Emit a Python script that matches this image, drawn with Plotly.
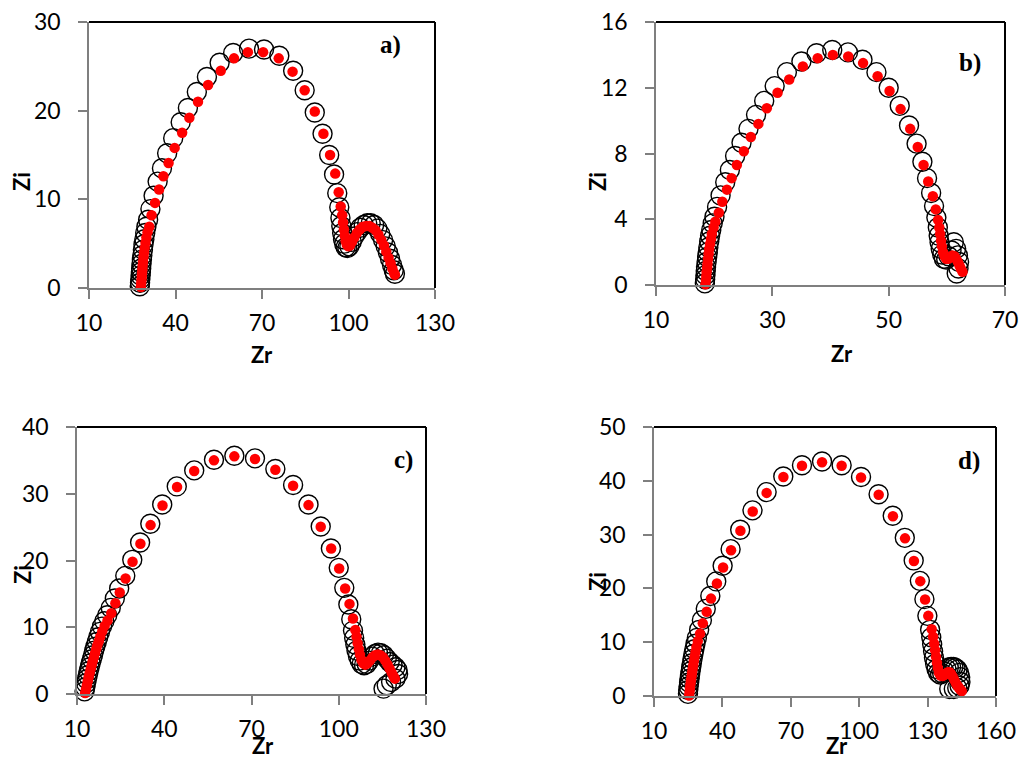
import plotly.graph_objects as go

# Nyquist plots (Zi vs Zr): measured spectra (open circles) and fitted model (red dots)

# ---- sample a ----
zr_a_exp = [27.6, 27.7, 27.8, 27.9, 28.0, 28.1, 28.2, 28.35, 28.5, 28.7, 28.9, 29.2, 29.5, 29.9, 30.5,
            31.3, 32.4, 33.8, 35.3, 37.1, 39.2, 41.8, 44.3, 47.4, 50.9, 55.3, 60.0, 65.5, 70.7, 76.0,
            80.8, 84.8, 88.3, 91.0, 93.3, 95.0, 96.1, 96.8, 97.2, 97.5, 97.8, 98.1, 98.5, 99.0, 99.6,
            100.3, 101.1, 102.0, 103.0, 104.1, 105.3, 106.5, 107.7, 108.9, 110.0, 111.0, 112.0, 112.9,
            113.7, 114.4, 115.1, 115.7, 116.1]
zi_a_exp = [0.2, 0.6, 1.0, 1.4, 1.8, 2.2, 2.7, 3.2, 3.7, 4.3, 4.9, 5.5, 6.2, 6.9, 7.7,
            8.9, 10.4, 12.0, 13.5, 15.2, 16.9, 18.7, 20.3, 22.1, 23.8, 25.4, 26.5, 27.0, 26.9, 26.2,
            24.5, 22.3, 19.8, 17.4, 15.0, 12.8, 10.7, 9.1, 7.9, 7.0, 6.2, 5.5, 5.0, 4.6, 4.5,
            4.7, 5.2, 5.8, 6.3, 6.8, 7.1, 7.3, 7.3, 7.1, 6.7, 6.1, 5.4, 4.7,
            4.0, 3.3, 2.6, 2.0, 1.6]
zr_a_fit = [28.0, 28.1, 28.2, 28.3, 28.4, 28.5, 28.6, 28.75, 28.9, 29.1, 29.3, 29.6, 29.9, 30.3, 30.9,
            31.7, 32.9, 34.3, 35.8, 37.6, 39.7, 42.3, 44.8, 47.8, 51.3, 55.7, 60.3, 65.1, 70.4, 75.8,
            80.6, 84.8, 88.3, 91.3, 93.6, 95.4, 96.6, 97.3, 97.8, 98.1, 98.4, 98.7, 99.0, 99.4, 99.9,
            100.5, 101.2, 102.0, 102.9, 103.9, 105.0, 106.1, 107.2, 108.3, 109.4, 110.4, 111.4, 112.3,
            113.1, 113.9, 114.6, 115.2, 115.8, 116.1]
zi_a_fit = [0.1, 0.5, 0.9, 1.3, 1.7, 2.1, 2.5, 3.0, 3.5, 4.0, 4.5, 5.1, 5.7, 6.3, 6.9,
            8.2, 9.6, 11.1, 12.6, 14.1, 15.8, 17.5, 19.2, 21.0, 22.9, 24.5, 25.9, 26.6, 26.6, 25.9,
            24.4, 22.3, 19.9, 17.4, 15.0, 12.9, 10.8, 9.2, 8.2, 7.4, 6.6, 5.9, 5.3, 4.9, 4.7,
            4.8, 5.2, 5.7, 6.2, 6.6, 6.9, 7.0, 7.0, 6.8, 6.5, 6.0, 5.4, 4.8,
            4.1, 3.4, 2.8, 2.2, 1.7, 1.5]

# ---- sample b ----
zr_b_exp = [18.4, 18.45, 18.5, 18.55, 18.6, 18.7, 18.8, 18.9, 19.0, 19.15, 19.3, 19.5, 19.75, 20.05, 20.5,
            21.1, 21.9, 22.7, 23.6, 24.7, 25.9, 27.2, 28.6, 30.4, 32.5, 35.0, 37.6, 40.3, 43.0, 45.5,
            47.9, 50.0, 51.9, 53.5, 54.8, 55.8, 56.6, 57.3, 57.8, 58.2, 58.45, 58.6, 58.75, 58.95, 59.2,
            59.5, 59.9, 60.3, 60.8, 61.2, 61.6, 61.9, 62.1, 62.0, 61.7]
zi_b_exp = [0.1, 0.35, 0.6, 0.85, 1.1, 1.4, 1.7, 2.0, 2.3, 2.65, 3.0, 3.35, 3.75, 4.15, 4.75,
            5.45, 6.25, 7.0, 7.85, 8.65, 9.5, 10.35, 11.2, 12.1, 12.95, 13.6, 14.1, 14.3, 14.15, 13.7,
            12.95, 12.0, 10.9, 9.7, 8.6, 7.5, 6.5, 5.6, 4.8, 4.1, 3.5, 3.0, 2.6, 2.2, 1.85,
            1.6, 1.55, 1.75, 2.1, 2.6, 2.2, 1.8, 1.4, 1.0, 0.7]
zr_b_fit = [18.5, 18.6, 18.65, 18.7, 18.8, 18.85, 18.95, 19.05, 19.15, 19.3, 19.45, 19.6, 19.9, 20.2, 20.8,
            21.4, 22.2, 23.0, 23.9, 25.1, 26.3, 27.6, 29.05, 30.9, 32.9, 35.25, 37.8, 40.4, 43.05, 45.6,
            48.1, 50.15, 52.05, 53.7, 55.0, 56.0, 56.8, 57.6, 58.1, 58.5, 58.7, 58.85, 59.0, 59.15, 59.35,
            59.6, 59.9, 60.25, 60.6, 60.95, 61.3, 61.6, 61.9, 62.15, 62.4, 62.7]
zi_b_fit = [0.05, 0.3, 0.55, 0.8, 1.05, 1.3, 1.6, 1.9, 2.2, 2.5, 2.8, 3.1, 3.5, 3.85, 4.4,
            5.06, 5.8, 6.5, 7.3, 8.14, 9.0, 9.8, 10.75, 11.7, 12.5, 13.3, 13.8, 14.0, 13.9, 13.5,
            12.7, 11.8, 10.7, 9.5, 8.4, 7.3, 6.3, 5.4, 4.6, 3.95, 3.5, 3.1, 2.7, 2.35, 2.0,
            1.75, 1.6, 1.6, 1.7, 1.8, 1.75, 1.6, 1.4, 1.2, 1.0, 0.8]

# ---- sample c ----
zr_c_exp = [12.6, 12.85, 13.1, 13.4, 13.7, 14.0, 14.35, 14.7, 15.1, 15.5, 15.9, 16.3, 16.8, 17.3, 17.9,
            18.6, 19.4, 20.4, 21.6, 23.0, 24.5, 26.6, 29.0, 31.7, 35.2, 39.3, 44.3, 50.3, 57.1, 64.1,
            71.2, 78.2, 84.3, 89.6, 93.8, 97.3, 100.0, 101.9, 103.3, 104.3, 104.9, 105.3, 105.7, 106.1, 106.6,
            107.2, 107.9, 108.7, 109.6, 110.5, 111.5, 112.5, 113.5, 114.5, 115.5, 116.5, 117.5, 118.5,
            119.5, 120.2, 120.4, 119.5, 118.0, 116.5, 115.4]
zi_c_exp = [0.4, 1.0, 1.6, 2.2, 2.8, 3.4, 4.0, 4.6, 5.2, 5.8, 6.5, 7.1, 7.8, 8.5, 9.3,
            10.1, 10.9, 11.8, 12.9, 14.3, 15.8, 17.7, 20.1, 22.7, 25.5, 28.4, 31.1, 33.5, 35.1, 35.7,
            35.3, 33.7, 31.3, 28.4, 25.1, 21.8, 18.9, 15.9, 13.4, 11.2, 9.5, 8.4, 7.4, 6.5, 5.7,
            5.0, 4.5, 4.3, 4.5, 5.0, 5.6, 6.0, 6.2, 6.1, 5.8, 5.3, 4.8, 4.4,
            4.0, 3.6, 3.0, 2.3, 1.8, 1.3, 0.8]
zr_c_fit = [12.8, 13.1, 13.4, 13.7, 14.0, 14.35, 14.7, 15.05, 15.4, 15.8, 16.2, 16.6, 17.0, 17.5, 18.0,
            18.7, 19.5, 20.5, 21.8, 23.2, 24.7, 26.7, 29.1, 31.8, 35.3, 39.4, 44.4, 50.3, 57.1, 64.1,
            71.2, 78.2, 84.3, 89.6, 93.8, 97.4, 100.15, 102.2, 103.7, 104.9, 105.7, 106.1, 106.5, 106.9, 107.3,
            107.8, 108.4, 109.1, 109.9, 110.7, 111.6, 112.5, 113.4, 114.3, 115.2, 116.0, 116.8, 117.5,
            118.2, 118.8, 119.3]
zi_c_fit = [0.15, 0.7, 1.3, 1.9, 2.5, 3.1, 3.7, 4.3, 4.9, 5.5, 6.1, 6.7, 7.3, 7.9, 8.6,
            9.4, 10.2, 11.0, 12.1, 13.6, 15.2, 17.3, 19.8, 22.5, 25.3, 28.25, 31.0, 33.4, 35.0, 35.6,
            35.2, 33.6, 31.2, 28.3, 25.05, 21.8, 18.8, 15.8, 13.5, 11.3, 9.6, 8.6, 7.6, 6.7, 5.9,
            5.1, 4.6, 4.4, 4.6, 5.0, 5.5, 5.8, 5.9, 5.8, 5.5, 5.0, 4.4, 3.8,
            3.2, 2.7, 2.3]

# ---- sample d ----
zr_d_exp = [24.9, 25.0, 25.2, 25.4, 25.6, 25.8, 26.05, 26.3, 26.6, 26.9, 27.3, 27.7, 28.2, 28.8, 29.8,
            31.0, 32.7, 34.7, 37.3, 40.1, 43.6, 47.8, 53.2, 59.4, 66.7, 74.9, 83.7, 92.3, 100.8, 108.5,
            114.7, 120.0, 123.9, 126.6, 128.6, 129.9, 131.1, 131.6, 132.0, 132.4, 132.8, 133.3, 133.9, 134.6, 135.5,
            136.4, 137.3, 138.3, 139.3, 140.3, 141.3, 142.2, 143.1, 143.8, 144.3, 144.4, 144.0, 143.0,
            141.5, 139.5]
zi_d_exp = [0.4, 1.1, 1.8, 2.5, 3.2, 3.9, 4.6, 5.3, 6.1, 6.9, 7.8, 8.7, 9.7, 10.8, 12.3,
            14.1, 16.2, 18.6, 21.3, 24.2, 27.3, 30.9, 34.5, 37.9, 40.8, 42.9, 43.6, 42.9, 40.7, 37.5,
            33.5, 29.4, 25.2, 21.4, 18.0, 14.9, 12.3, 10.9, 9.6, 8.3, 7.1, 6.0, 5.0, 4.3, 4.0,
            4.2, 4.6, 5.0, 5.3, 5.4, 5.4, 5.2, 4.9, 4.3, 3.5, 2.6, 1.9, 1.5,
            1.3, 1.3]
zr_d_fit = [25.4, 25.6, 25.8, 26.0, 26.2, 26.45, 26.7, 26.95, 27.2, 27.5, 27.8, 28.2, 28.6, 29.2, 30.2,
            31.4, 33.1, 35.0, 37.6, 40.3, 43.8, 47.9, 53.3, 59.4, 66.75, 74.9, 83.7, 92.3, 100.8, 108.55,
            114.8, 120.1, 124.0, 126.8, 128.9, 130.3, 131.8, 132.4, 132.9, 133.3, 133.7, 134.1, 134.5, 135.0, 135.7,
            136.5, 137.3, 138.1, 138.9, 139.6, 140.3, 141.0, 141.7, 142.4, 143.1, 143.8, 144.5, 145.0]
zi_d_fit = [0.1, 0.8, 1.5, 2.2, 2.9, 3.6, 4.3, 5.0, 5.7, 6.5, 7.3, 8.2, 9.1, 10.2, 11.6,
            13.5, 15.65, 18.1, 20.9, 23.9, 27.1, 30.7, 34.3, 37.75, 40.7, 42.8, 43.45, 42.8, 40.6, 37.4,
            33.4, 29.3, 25.1, 21.35, 17.95, 14.9, 12.4, 11.0, 9.7, 8.5, 7.3, 6.2, 5.2, 4.3, 3.8,
            3.7, 3.9, 4.2, 4.4, 4.4, 4.1, 3.6, 3.0, 2.4, 1.9, 1.5, 1.1, 0.9]

panel_labels = ["a)", "b)", "c)", "d)"]
zr_ticks = [[10, 40, 70, 100, 130], [10, 30, 50, 70], [10, 40, 70, 100, 130], [10, 40, 70, 100, 130, 160]]
zi_ticks = [[0, 10, 20, 30], [0, 4, 8, 12, 16], [0, 10, 20, 30, 40], [0, 10, 20, 30, 40, 50]]

W, H = 1024, 760

# plot-area boxes in pixels: left, right, top, bottom
boxes = [(89, 435, 22, 288), (656, 1005, 22, 285), (77, 426, 427, 694), (654, 996, 427, 696)]
# Zr titles: (x centre, y, vertical anchor); lower row sits on the bottom edge of the page
zr_title_pos = [(262, 355, "middle"), (842, 353, "middle"), (263, 760, "bottom"), (837, 760, "bottom")]
zi_title_pos = [(22, 182), (598, 182), (22, 575), (597, 582)]
letter_pos = [(390, 45), (970, 63), (403, 460), (969, 461)]

series = [
    (zr_a_exp, zi_a_exp, zr_a_fit, zi_a_fit),
    (zr_b_exp, zi_b_exp, zr_b_fit, zi_b_fit),
    (zr_c_exp, zi_c_exp, zr_c_fit, zi_c_fit),
    (zr_d_exp, zi_d_exp, zr_d_fit, zi_d_fit),
]

AXIS_GREY = "#7f7f7f"
TICK_FONT = dict(family="Lato, Carlito, 'Open Sans', sans-serif", size=23, color="black")
TITLE_FONT = dict(family="Lato, Carlito, 'Open Sans', sans-serif", size=22, color="black")
LETTER_FONT = dict(family="'Liberation Serif', 'Times New Roman', serif", size=25, color="black")

def px(x):
    return x / W

def py(y):
    return 1 - y / H

fig = go.Figure()
layout = dict(
    width=W, height=H,
    margin=dict(l=0, r=0, t=0, b=0, autoexpand=False),
    paper_bgcolor="white", plot_bgcolor="white",
    showlegend=False,
    shapes=[], annotations=[],
)

for i, (zr_e, zi_e, zr_f, zi_f) in enumerate(series):
    s = "" if i == 0 else str(i + 1)
    xa, ya = "x" + s, "y" + s
    # measured data: open black circles
    fig.add_trace(go.Scatter(
        x=zr_e, y=zi_e, mode="markers", xaxis=xa, yaxis=ya, cliponaxis=False,
        marker=dict(symbol="circle-open", size=19, color="black", line=dict(width=1.4)),
        name="experimental"))
    # fitted model: filled red dots drawn on top
    fig.add_trace(go.Scatter(
        x=zr_f, y=zi_f, mode="markers", xaxis=xa, yaxis=ya, cliponaxis=False,
        marker=dict(symbol="circle", size=10.5, color="#ff0000", line=dict(width=0)),
        name="fit"))

    l, r, t, b = boxes[i]
    xt, yt = zr_ticks[i], zi_ticks[i]
    layout["xaxis" + s] = dict(
        domain=[px(l), px(r)], anchor=ya, range=[xt[0], xt[-1]], automargin=False,
        tickmode="array", tickvals=xt, ticktext=[str(v) for v in xt],
        showline=True, linecolor=AXIS_GREY, linewidth=1.5, mirror=False,
        ticks="outside", ticklen=9, tickwidth=1.5, tickcolor=AXIS_GREY,
        showgrid=False, zeroline=False, tickfont=TICK_FONT, ticklabelstandoff=5)
    layout["yaxis" + s] = dict(
        domain=[py(b), py(t)], anchor=xa, range=[yt[0], yt[-1]], automargin=False,
        tickmode="array", tickvals=yt, ticktext=[str(v) for v in yt],
        showline=True, linecolor=AXIS_GREY, linewidth=1.5, mirror=False,
        ticks="outside", ticklen=9, tickwidth=1.5, tickcolor=AXIS_GREY,
        showgrid=False, zeroline=False, tickfont=TICK_FONT, ticklabelstandoff=13)

    # black frame on top and right edges of the plot area
    for (x0, y0, x1, y1) in [(0, 1, 1, 1), (1, 0, 1, 1)]:
        layout["shapes"].append(dict(
            type="line", xref=xa + " domain", yref=ya + " domain",
            x0=x0, y0=y0, x1=x1, y1=y1, line=dict(color="black", width=2), layer="above"))

    zx, zy, zanchor = zr_title_pos[i]
    layout["annotations"].append(dict(
        text="<b>Zr</b>", x=px(zx), y=py(zy), xref="paper", yref="paper",
        xanchor="center", yanchor=zanchor, showarrow=False, font=TITLE_FONT, borderpad=0))
    zx, zy = zi_title_pos[i]
    layout["annotations"].append(dict(
        text="<b>Zi</b>", x=px(zx), y=py(zy), xref="paper", yref="paper", textangle=-90,
        xanchor="center", yanchor="middle", showarrow=False, font=TITLE_FONT))
    lx, ly = letter_pos[i]
    layout["annotations"].append(dict(
        text="<b>" + panel_labels[i] + "</b>", x=px(lx), y=py(ly), xref="paper", yref="paper",
        xanchor="center", yanchor="middle", showarrow=False, font=LETTER_FONT))

fig.update_layout(**layout)
fig.write_html("out.html")
